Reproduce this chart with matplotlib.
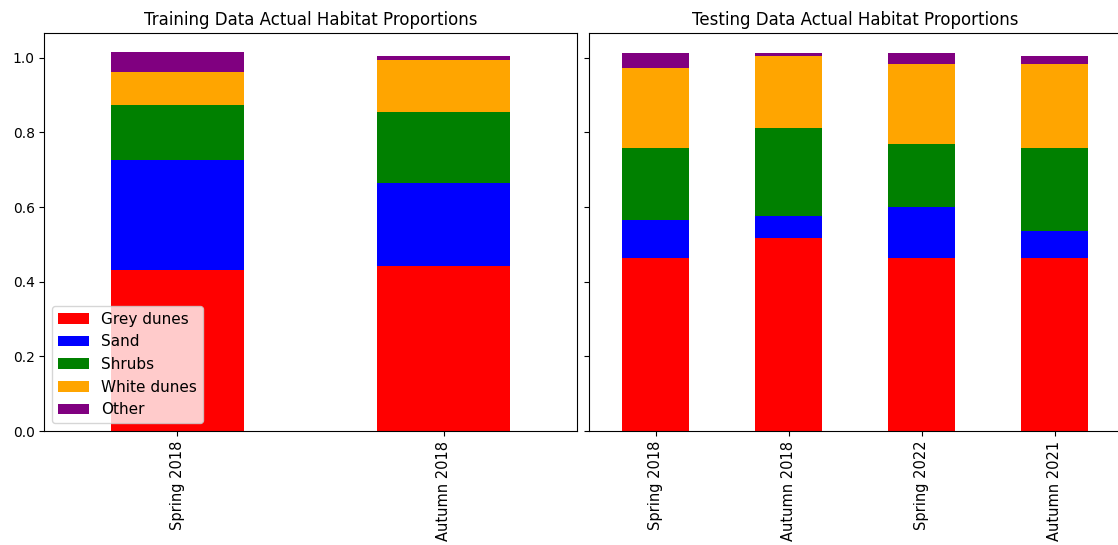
import pandas as pd
import matplotlib
matplotlib.use("Agg")
import matplotlib.pyplot as plt

habitats = ["Grey dunes", "Sand", "Shrubs", "White dunes", "Other"]
colors = ["red", "blue", "green", "orange", "purple"]

train_labels = ["Spring 2018", "Autumn 2018"]
train_grey = [0.432, 0.442]
train_sand = [0.293, 0.222]
train_shrubs = [0.149, 0.191]
train_white = [0.089, 0.140]
train_other = [0.052, 0.009]

test_labels = ["Spring 2018", "Autumn 2018", "Spring 2022", "Autumn 2021"]
test_grey = [0.464, 0.516, 0.464, 0.464]
test_sand = [0.102, 0.061, 0.135, 0.073]
test_shrubs = [0.193, 0.235, 0.171, 0.222]
test_white = [0.213, 0.192, 0.214, 0.225]
test_other = [0.040, 0.008, 0.028, 0.020]

train = pd.DataFrame(dict(zip(habitats, [train_grey, train_sand, train_shrubs, train_white, train_other])), index=train_labels)
test = pd.DataFrame(dict(zip(habitats, [test_grey, test_sand, test_shrubs, test_white, test_other])), index=test_labels)

fig, axes = plt.subplots(1, 2, figsize=(11.18, 5.45), dpi=100, sharey=True)
plt.subplots_adjust(left=0.0398, right=1.0027, top=0.939, bottom=0.209, wspace=0.0235)

train.plot.bar(stacked=True, color=colors, ax=axes[0], title="Training Data Actual Habitat Proportions")
axes[0].legend(loc="lower left", fontsize=11)

test.plot.bar(stacked=True, color=colors, ax=axes[1], legend=False, title="Testing Data Actual Habitat Proportions")

for ax in axes:
  ax.tick_params(axis="x", labelsize=10.5)

fig.savefig("out.png")
